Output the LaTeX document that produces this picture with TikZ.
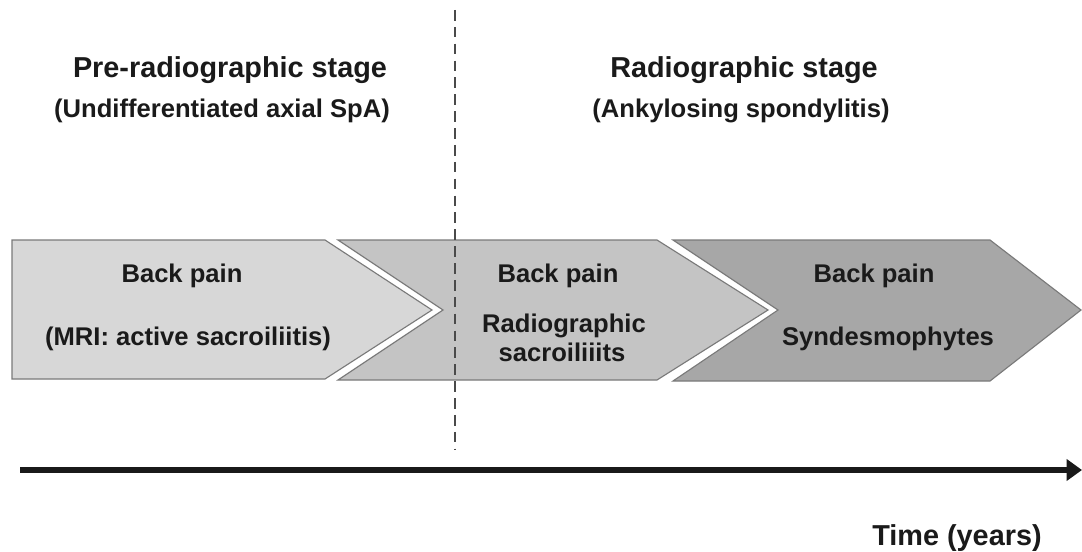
\documentclass[tikz,border=0pt]{standalone}
\usepackage{fontspec}
\setmainfont{Liberation Sans}
\usetikzlibrary{arrows.meta}
\definecolor{fa}{HTML}{D7D7D7}
\definecolor{fb}{HTML}{C4C4C4}
\definecolor{fc}{HTML}{A7A7A7}
\definecolor{edge}{HTML}{7A7A7A}
\definecolor{txt}{HTML}{1A1A1A}
\definecolor{dashc}{HTML}{4A4A4A}
\begin{document}
\begin{tikzpicture}[x=0.025cm,y=-0.025cm,
  chev/.style={draw=edge, line width=0.8pt, line join=miter},
  head/.style={font=\bfseries\fontsize{20.5}{24}\selectfont, text=txt, inner sep=0, anchor=base},
  sub/.style={font=\bfseries\fontsize{18.2}{22}\selectfont, text=txt, inner sep=0, anchor=base},
  lab/.style={font=\bfseries\fontsize{18.2}{22}\selectfont, text=txt, inner sep=0, anchor=base},
  divider/.style={draw=dashc, line width=1.6pt, dash pattern=on 7.5pt off 4.5pt},
  axis/.style={draw=black!90, line width=3.6pt, -{Triangle[length=11pt,width=15pt]}}
]
\useasboundingbox (0,0) rectangle (1082,551);
\fill[white] (0,0) rectangle (1082,551);
% chevrons
\filldraw[chev, fill=fc] (673,240) -- (990,240) -- (1081,310) -- (990,381) -- (673,381) -- (778,310) -- cycle;
\filldraw[chev, fill=fb] (338,240) -- (657,240) -- (768,310) -- (657,380) -- (338,380) -- (443,310) -- cycle;
\filldraw[chev, fill=fa] (12,240) -- (325,240) -- (432,310) -- (325,379) -- (12,379) -- cycle;
% divider
\coordinate (d0) at (455,10);
\coordinate (d1) at (455,450);
\draw[divider] (d0) -- (d1);
% headings
\node[head] (h1) at (230,78) {Pre-radiographic stage};
\node[sub] (s1) at (222,118) {(Undifferentiated axial SpA)};
\node[head] (h2) at (744,78) {Radiographic stage};
\node[sub] (s2) at (741,118) {(Ankylosing spondylitis)};
% arrow labels
\node[lab] (a1) at (182,282) {Back pain};
\node[lab] (a1b) at (188,345) {(MRI: active sacroiliitis)};
\node[lab] (a2) at (558,282) {Back pain};
\node[lab] (a2b) at (564,332) {Radiographic};
\node[lab] (a2c) at (562,361) {sacroiliiits};
\node[lab] (a3) at (874,282) {Back pain};
\node[lab] (a3b) at (888,345) {Syndesmophytes};
% time axis
\coordinate (t0) at (20,470);
\coordinate (t1) at (1082,470);
\draw[axis] (t0) -- (t1);
\node[head] (time) at (957,545) {Time (years)};
\end{tikzpicture}
\end{document}
